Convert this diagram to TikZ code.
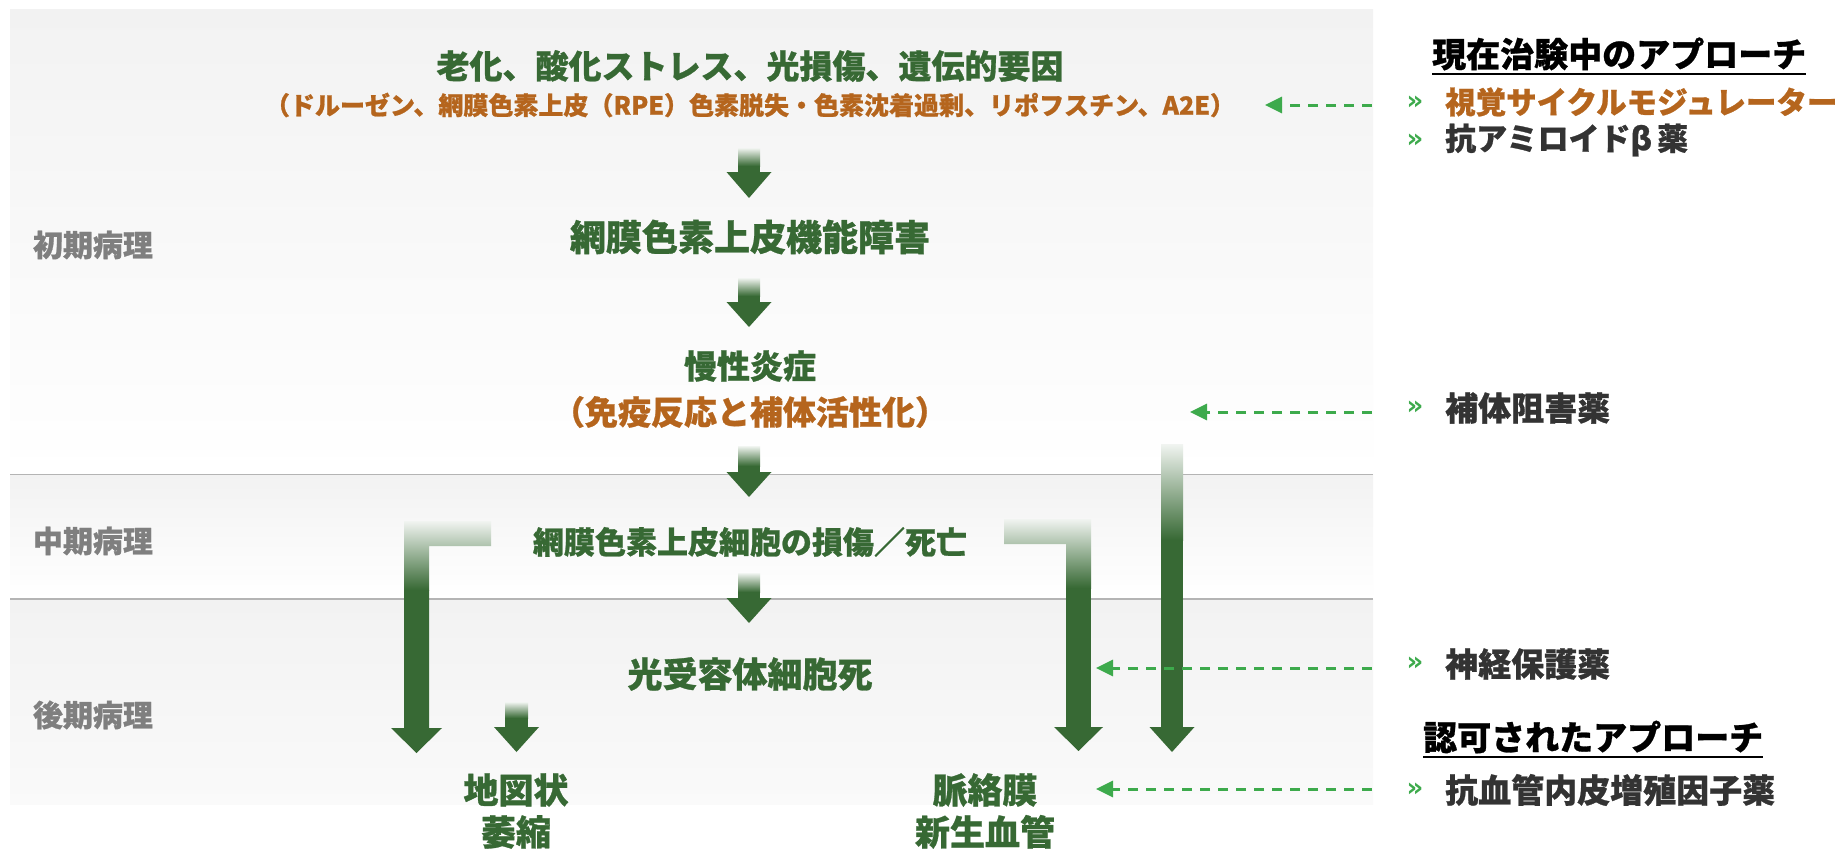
\documentclass[tikz,border=0pt]{standalone}
\usepackage{fontspec}
\newfontfamily\jp{Noto Sans CJK JP}[BoldFeatures={FakeBold=0.8}]
\newfontfamily\dv{DejaVu Sans}
\usetikzlibrary{arrows.meta}
\definecolor{dg}{HTML}{376934}
\definecolor{org}{HTML}{B5651D}
\definecolor{lg}{HTML}{3DAA4C}
\definecolor{lbl}{HTML}{7F7F7F}
\definecolor{dk}{HTML}{333333}
\definecolor{bandtop}{HTML}{F2F2F2}
\definecolor{sepline}{HTML}{B4B4B4}
\newcommand\jfs[2]{\fontsize{#1}{#2}\selectfont}
\newcommand\garrow[7]{%
  \shade[top color=dg!7!white, bottom color=dg] ({#1-#2},#4) rectangle ({#1+#2},#5);
  \fill[dg] ({#1-#2},{#5-0.5}) rectangle ({#1+#2},{#6+0.5});
  \fill[dg] ({#1-#3},#6) -- ({#1+#3},#6) -- (#1,#7) -- cycle;
}
\begin{document}
\begin{tikzpicture}[x=1pt,y=-1pt,
  txt/.style={inner sep=0pt, font=\jp\bfseries},
  green/.style={txt, text=dg},
  orange/.style={txt, text=org},
  stage/.style={txt, text=lbl, font=\jp\bfseries\jfs{30}{36}},
  item/.style={txt, anchor=west, text=dk, font=\jp\bfseries\jfs{33}{38}},
  header/.style={txt, anchor=west, text=black, font=\jp\bfseries\jfs{34}{40}},
  bullet/.style={inner sep=0pt, text=lg, font=\dv\bfseries\jfs{26}{26}},
  dasharr/.style={draw=lg, line width=3pt, dash pattern=on 10pt off 8pt,
    -{Triangle[length=17pt,width=16pt]}}]
\useasboundingbox (0,0) rectangle (1845,851);
\fill[white] (0,0) rectangle (1845,851);
% bands
\shade[top color=bandtop, bottom color=white] (10,10) rectangle (1373,474);
\shade[top color=bandtop, bottom color=white] (10,474) rectangle (1373,599);
\shade[top color=bandtop, bottom color=white!98!black] (10,599) rectangle (1373,804);
\draw[sepline, line width=1.5pt] (10,474.5) -- (1373,474.5);
\draw[sepline, line width=1.5pt] (10,599) -- (1373,599);
% stage labels
\node[stage] (s1) at (93,245) {初期病理};
\node[stage] (s2) at (93,541) {中期病理};
\node[stage] (s3) at (93,715) {後期病理};
% main flow texts
\node[green, font=\jp\bfseries\jfs{33}{40}] (n1) at (750,66) {老化、酸化ストレス、光損傷、遺伝的要因};
\node[orange, font=\jp\bfseries\jfs{25}{30}] (n1b) at (750,105) {（ドルーゼン、網膜色素上皮（RPE）色素脱失・色素沈着過剰、リポフスチン、A2E）};
\node[green, font=\jp\bfseries\jfs{36}{40}] (n2) at (750,237) {網膜色素上皮機能障害};
\node[green, font=\jp\bfseries\jfs{33}{40}] (n3) at (750,366) {慢性炎症};
\node[orange, font=\jp\bfseries\jfs{33}{40}] (n3b) at (750,412) {（免疫反応と補体活性化）};
\node[green, font=\jp\bfseries\jfs{31}{36}] (n4) at (750,542) {網膜色素上皮細胞の損傷／死亡};
\node[green, font=\jp\bfseries\jfs{35}{40}] (n5) at (750,674) {光受容体細胞死};
\node[green, align=center, font=\jp\bfseries\jfs{35}{42}] (n6) at (516,811) {地図状\\萎縮};
\node[green, align=center, font=\jp\bfseries\jfs{35}{42}] (n7) at (985,811) {脈絡膜\\新生血管};
% center block arrows
\garrow{749}{11}{22.5}{148}{166}{172}{198}
\garrow{749}{11}{22.5}{278}{296}{302}{327}
\garrow{749}{11}{22.5}{446}{466}{472}{497}
\garrow{749}{11}{22.5}{573}{592}{598}{623}
% small arrow to 地図状
\garrow{516.5}{11.5}{22.5}{702}{718}{727}{752}
% long right arrow
\garrow{1172}{11}{22.5}{444}{540}{727}{752}
% left L arrow
\begin{scope}
  \clip (404,521) -- (491,521) -- (491,546) -- (429,546) -- (429,729) -- (404,729) -- cycle;
  \shade[top color=dg!7!white, bottom color=dg] (404,521) rectangle (491,590);
  \fill[dg] (404,589.5) rectangle (491,730);
\end{scope}
\fill[dg] (391,728) -- (442,728) -- (416.5,753) -- cycle;
% right L arrow
\begin{scope}
  \clip (1004,519) -- (1091,519) -- (1091,729) -- (1066,729) -- (1066,544) -- (1004,544) -- cycle;
  \shade[top color=dg!7!white, bottom color=dg] (1004,519) rectangle (1091,588);
  \fill[dg] (1004,587.5) rectangle (1091,730);
\end{scope}
\fill[dg] (1054,727) -- (1103,727) -- (1078.5,751) -- cycle;
% right panel
\node[header] (h1) at (1432,54) {現在治験中のアプローチ};
\draw[black, line width=2pt] ([yshift=-3pt]h1.south west) -- ([yshift=-3pt]h1.south east);
\node[bullet] (b1) at (1415,103) {»};
\node[item, text=org, font=\jp\bfseries\jfs{30.5}{36}] (i1) at (1445,102) {視覚サイクルモジュレーター};
\node[bullet] (b2) at (1415,141) {»};
\node[item, font=\jp\bfseries\jfs{31}{36}] (i2) at (1445,140) {抗アミロイドβ\,薬};
\node[bullet] (b3) at (1415,408) {»};
\node[item] (i3) at (1445,408) {補体阻害薬};
\node[bullet] (b4) at (1415,664) {»};
\node[item] (i4) at (1445,664) {神経保護薬};
\node[header] (h2) at (1423,737) {認可されたアプローチ};
\draw[black, line width=2pt] ([yshift=-3pt]h2.south west) -- ([yshift=-3pt]h2.south east);
\node[bullet] (b5) at (1415,790) {»};
\node[item] (i5) at (1445,790) {抗血管内皮増殖因子薬};
% dashed arrows
\coordinate (d1s) at (1372,105); \coordinate (d1e) at (1265,105);
\coordinate (d2s) at (1372,412); \coordinate (d2e) at (1190,412);
\coordinate (d3s) at (1372,668); \coordinate (d3e) at (1096,668);
\coordinate (d4s) at (1372,789); \coordinate (d4e) at (1096,789);
\draw[dasharr] (d1s) -- (d1e);
\draw[dasharr] (d2s) -- (d2e);
\draw[dasharr] (d3s) -- (d3e);
\draw[dasharr] (d4s) -- (d4e);
\end{tikzpicture}
\end{document}
